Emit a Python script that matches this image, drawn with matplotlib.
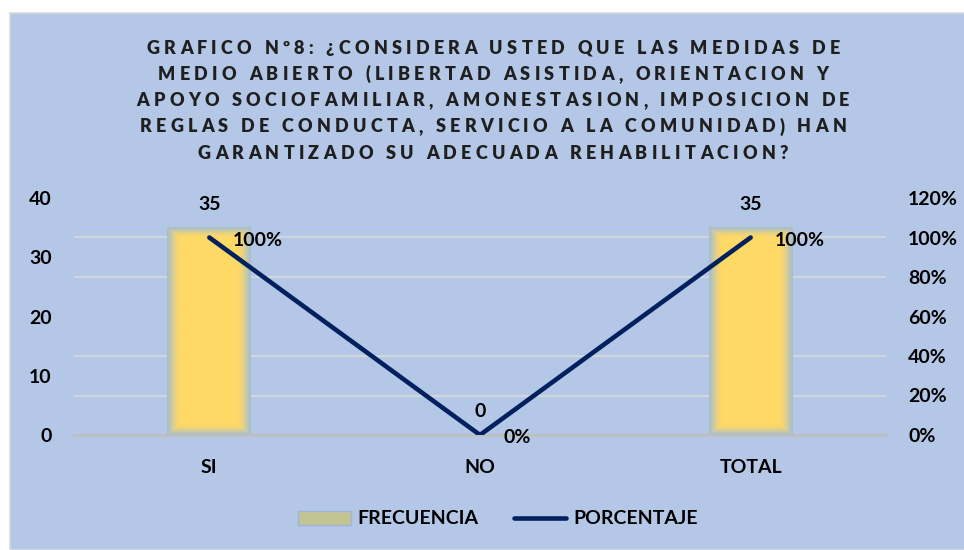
import numpy as np
import matplotlib.pyplot as plt
from matplotlib.patches import Rectangle, Patch
from matplotlib.lines import Line2D
from matplotlib.colors import to_rgb
from matplotlib.font_manager import FontProperties

plt.rcParams['font.family'] = ['Lato', 'DejaVu Sans']
plt.rcParams['font.weight'] = 'bold'

categorias = ['SI', 'NO', 'TOTAL']
frecuencia = [35, 0, 35]
porcentaje = [1.0, 0.0, 1.0]
etiq_pct = ['100%', '0%', '100%']

titulo = ['GRAFICO Nº8: ¿CONSIDERA USTED QUE LAS MEDIDAS DE',
          'MEDIO ABIERTO (LIBERTAD ASISTIDA, ORIENTACION Y',
          'APOYO SOCIOFAMILIAR, AMONESTASION, IMPOSICION DE',
          'REGLAS DE CONDUCTA, SERVICIO A LA COMUNIDAD) HAN',
          'GARANTIZADO SU ADECUADA REHABILITACION?']

fondo = '#B4C7E7'
azul = '#002060'
W, H = 964, 550

fig = plt.figure(figsize=(9.64, 5.5), dpi=100, facecolor='white')
# chart area background
fig.patches.append(Rectangle((10 / W, 0), 1, 537 / H, transform=fig.transFigure,
                             facecolor=fondo, edgecolor='#D9D9D9', lw=1.2, zorder=-1))

ax = fig.add_axes([74 / W, 115 / H, 812 / W, 237 / H])
ax.set_facecolor('none')
x = np.arange(len(categorias))
bars = ax.bar(x, frecuencia, width=0.31, color='#FFD966', zorder=2)

# soft gradient look on the bars
c_edge = np.array(to_rgb('#A8BFCB'))
c_mid = np.array(to_rgb('#FFD966'))
for b in bars:
    h = b.get_height()
    if h <= 0:
        continue
    nx, ny = 84, 200
    dx = np.minimum(np.arange(nx), np.arange(nx)[::-1]) / 14.0
    dy = np.minimum(np.arange(ny), np.arange(ny)[::-1]) / 10.0
    t = np.clip(np.minimum(dx[None, :], dy[:, None]), 0, 1)
    t = (np.sin(t * np.pi / 2) ** 1.2)[..., None]
    img = c_edge * (1 - t) + c_mid * t
    b.set_visible(False)
    ax.imshow(img, extent=[b.get_x(), b.get_x() + b.get_width(), 0, h],
              aspect='auto', zorder=2, interpolation='bilinear')

ax.set_xlim(-0.5, len(categorias) - 0.5)
ax.set_ylim(0, 40)
ax.set_yticks(np.arange(0, 41, 10))
ax.set_yticks(np.linspace(0, 40, 7), minor=True)
ax.grid(which='minor', axis='y', color='#D9D9D9', lw=1.2, zorder=0)
ax.set_axisbelow(True)
ax.set_xticks(x)
ax.set_xticklabels(categorias)
ax.tick_params(axis='both', which='both', length=0, labelsize=14)
ax.tick_params(axis='y', pad=16)
ax.tick_params(axis='x', pad=17)
for s in ['top', 'left', 'right']:
    ax.spines[s].set_visible(False)
ax.spines['bottom'].set_color('#BFBFBF')
ax.spines['bottom'].set_linewidth(2)

for xi, v in zip(x, frecuencia):
    ax.annotate(str(v), (xi, v), xytext=(0, 17), textcoords='offset points',
                ha='center', va='center', fontsize=14, fontweight='bold')

ax2 = ax.twinx()
ax2.plot(x, porcentaje, color=azul, lw=3.3, solid_capstyle='round',
         solid_joinstyle='miter', zorder=3)
ax2.set_ylim(0, 1.2)
ax2.set_yticks(np.linspace(0, 1.2, 7))
ax2.set_yticklabels([f'{int(round(v * 100))}%' for v in np.linspace(0, 1.2, 7)])
ax2.tick_params(axis='y', length=0, labelsize=14, pad=16)
for s in ax2.spines.values():
    s.set_visible(False)
ax2.set_xlim(-0.5, len(categorias) - 0.5)

for xi, v, lab in zip(x, porcentaje, etiq_pct):
    ax2.annotate(lab, (xi, v), xytext=(17, -2), textcoords='offset points',
                 ha='left', va='center', fontsize=14, fontweight='bold')

# title with wide letter spacing (placed char by char)
renderer = fig.canvas.get_renderer()
fp = FontProperties(family=['Lato', 'DejaVu Sans'], weight='heavy', size=13)
def anchos(s):
    return [renderer.get_text_width_height_descent(c, fp, ismath=False)[0] for c in s]
w0 = anchos(titulo[0])
track = (693 - sum(w0)) / (len(titulo[0]) - 1)
cx = 493
for i, linea in enumerate(titulo):
    ws = anchos(linea)
    total = sum(ws) + track * (len(linea) - 1)
    xp = cx - total / 2
    yp = 1 - (48 + i * 26.3) / H
    for c, w in zip(linea, ws):
        fig.text(xp / W, yp, c, ha='left', va='center', fontproperties=fp,
                 color='#1F1F1F')
        xp += w + track

handles = [Patch(facecolor='#C3C393', edgecolor='#9DB5D9', lw=1),
           Line2D([0], [0], color=azul, lw=3.3, solid_capstyle='round')]
fig.legend(handles, ['FRECUENCIA', 'PORCENTAJE'], loc='center',
           bbox_to_anchor=(498 / W, 1 - 519 / H), ncol=2, frameon=False,
           fontsize=14, handlelength=2.7, handleheight=0.7, columnspacing=1.8,
           handletextpad=0.35)

fig.savefig('out.png', dpi=100)
